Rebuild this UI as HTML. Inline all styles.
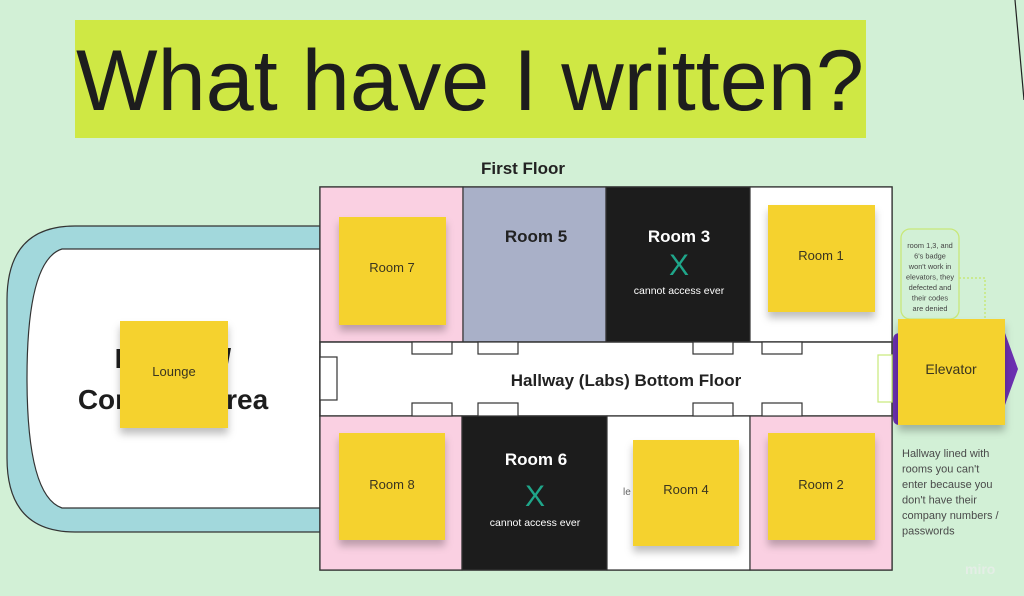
<!DOCTYPE html>
<html><head><meta charset="utf-8"><style>
html,body{margin:0;padding:0;background:#d2f0d6;}
svg{display:block}
text{font-family:"Liberation Sans","DejaVu Sans",sans-serif;}
</style></head><body>
<svg width="1024" height="596" viewBox="0 0 1024 596" xmlns="http://www.w3.org/2000/svg">
<defs>
<filter id="sh" x="-20%" y="-20%" width="140%" height="160%"><feDropShadow dx="0" dy="6" stdDeviation="4" flood-color="#000" flood-opacity="0.25"/></filter>
</defs>
<rect width="1024" height="596" fill="#d2f0d6"/>
<line x1="1015" y1="0" x2="1024" y2="100" stroke="#222" stroke-width="1.2"/>
<rect x="75" y="20" width="791" height="118" fill="#cfe844"/>
<text x="76" y="110" font-size="86" fill="#1d1d1d" textLength="788" lengthAdjust="spacingAndGlyphs">What have I written?</text>
<text x="523" y="174" font-size="17" font-weight="bold" fill="#222" text-anchor="middle">First Floor</text>
<path d="M320 226 L75 226 Q7 226 7 300 L7 458 Q7 532 75 532 L320 532 Z" fill="#a2d8dc" stroke="#333" stroke-width="1.2"/>
<path d="M320 249 L62 249 Q27 260 27 378 Q27 496 62 508 L320 508 Z" fill="#fff" stroke="#333" stroke-width="1.2"/>
<text x="173" y="368" font-size="28" font-weight="bold" fill="#1d1d1d" text-anchor="middle">Lounge /</text>
<text x="173" y="409" font-size="28" font-weight="bold" fill="#1d1d1d" text-anchor="middle">Common Area</text>
<rect x="320" y="187" width="572" height="383" fill="#fff" stroke="#333" stroke-width="1.5"/>
<rect x="320" y="187" width="143" height="155" fill="#fad0e2" stroke="#333" stroke-width="1.2"/>
<rect x="463" y="187" width="143" height="155" fill="#a9b0c8" stroke="#333" stroke-width="1.2"/>
<rect x="606" y="187" width="144" height="155" fill="#1c1c1c" stroke="#333" stroke-width="1.2"/>
<rect x="750" y="187" width="142" height="155" fill="#fff" stroke="#333" stroke-width="1.2"/>
<rect x="320" y="342" width="572" height="74" fill="#fff" stroke="#333" stroke-width="1.5"/>
<rect x="320" y="416" width="142" height="154" fill="#fad0e2" stroke="#333" stroke-width="1.2"/>
<rect x="462" y="416" width="145" height="154" fill="#1c1c1c" stroke="#333" stroke-width="1.2"/>
<rect x="607" y="416" width="143" height="154" fill="#fff" stroke="#333" stroke-width="1.2"/>
<rect x="750" y="416" width="142" height="154" fill="#fad0e2" stroke="#333" stroke-width="1.2"/>
<g fill="#fff" stroke="#333" stroke-width="1.2">
<rect x="412" y="342" width="40" height="12"/><rect x="478" y="342" width="40" height="12"/><rect x="693" y="342" width="40" height="12"/><rect x="762" y="342" width="40" height="12"/>
<rect x="412" y="403" width="40" height="13"/><rect x="478" y="403" width="40" height="13"/><rect x="693" y="403" width="40" height="13"/><rect x="762" y="403" width="40" height="13"/>
<rect x="320" y="357" width="17" height="43"/>
</g>
<rect x="878" y="355" width="14" height="47" fill="#fff" stroke="#c8e87a" stroke-width="1.2"/>
<text x="626" y="386" font-size="17" font-weight="bold" fill="#222" text-anchor="middle">Hallway (Labs) Bottom Floor</text>
<text x="536" y="242" font-size="17" font-weight="bold" fill="#222" text-anchor="middle">Room 5</text>
<text x="679" y="242" font-size="17" font-weight="bold" fill="#fff" text-anchor="middle">Room 3</text>
<text x="679" y="275" font-size="30" fill="#1fa68a" text-anchor="middle">X</text>
<text x="679" y="294" font-size="10.5" fill="#fff" text-anchor="middle">cannot access ever</text>
<text x="536" y="465" font-size="17" font-weight="bold" fill="#fff" text-anchor="middle">Room 6</text>
<text x="535" y="506" font-size="30" fill="#1fa68a" text-anchor="middle">X</text>
<text x="535" y="526" font-size="10.5" fill="#fff" text-anchor="middle">cannot access ever</text>
<text x="623" y="495" font-size="10" fill="#666">le</text>
<path d="M900 333 L1005 333 L1018 369 L1005 405 L1005 425 L900 425 Q893 425 893 418 L893 340 Q893 333 900 333 Z" fill="#6b2fb0"/>
<rect x="901" y="229" width="58" height="90" rx="9" fill="#d2f0d6" stroke="#c8e87a" stroke-width="1.3"/>
<g font-size="7.4" fill="#444" text-anchor="middle">
<text x="930" y="248">room 1,3, and</text><text x="930" y="258.5">6's badge</text><text x="930" y="269">won't work in</text><text x="930" y="279.5">elevators, they</text><text x="930" y="290">defected and</text><text x="930" y="300.5">their codes</text><text x="930" y="311">are denied</text>
</g>
<path d="M959 278 L985 278 L985 319" fill="none" stroke="#c8e87a" stroke-width="1.5" stroke-dasharray="2 2"/>
<g fill="#f5d22e" filter="url(#sh)">
<rect x="120" y="321" width="108" height="107"/>
<rect x="339" y="217" width="107" height="108"/>
<rect x="339" y="433" width="106" height="107"/>
<rect x="768" y="205" width="107" height="107"/>
<rect x="633" y="440" width="106" height="106"/>
<rect x="768" y="433" width="107" height="107"/>
<rect x="898" y="319" width="107" height="106"/>
</g>
<g font-size="13" fill="#3a3520" text-anchor="middle">
<text x="174" y="376">Lounge</text>
<text x="392" y="272">Room 7</text>
<text x="392" y="489">Room 8</text>
<text x="821" y="260">Room 1</text>
<text x="686" y="494">Room 4</text>
<text x="821" y="489">Room 2</text>
<text x="951" y="374" font-size="14">Elevator</text>
</g>
<g font-size="11" fill="#4a4a4a">
<text x="902" y="457">Hallway lined with</text><text x="902" y="472.5">rooms you can't</text><text x="902" y="488">enter because you</text><text x="902" y="503.5">don't have their</text><text x="902" y="519">company numbers /</text><text x="902" y="534.5">passwords</text>
</g>
<text x="965" y="574" font-size="14" font-weight="bold" fill="#e4eee6">miro</text>
</svg>
</body></html>
